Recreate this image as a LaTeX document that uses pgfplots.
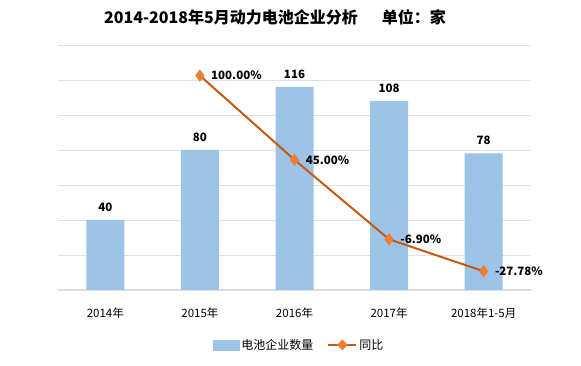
\documentclass[border=0pt]{standalone}
\usepackage{fontspec}
\setmainfont{Noto Sans CJK SC}
\usepackage{pgfplots}
\pgfplotsset{compat=1.18}
\definecolor{barblue}{HTML}{9DC3E6}
\definecolor{lineor}{HTML}{C55A11}
\definecolor{markor}{HTML}{ED7D31}
\definecolor{gridc}{HTML}{D9E1F2}
\definecolor{basec}{HTML}{D9D9D9}
\begin{document}
\begin{tikzpicture}
\path[use as bounding box] (0pt,0pt) rectangle (581pt,366pt);
\node[font=\fontsize{16}{18}\bfseries\selectfont] at (275pt,349pt) {2014-2018年5月动力电池企业分析\hspace{1.5em}单位：家};
\begin{axis}[
  at={(58pt,76pt)}, anchor=south west, scale only axis,
  width=473pt, height=245pt,
  xmin=-0.5, xmax=4.5, ymin=0, ymax=140,
  xtick={0,1,2,3,4},
  xticklabels={2014年,2015年,2016年,2017年,2018年1-5月},
  ytick={0,20,...,140}, yticklabels={},
  ymajorgrids, grid style={gridc, line width=0.8pt},
  major tick length=0pt,
  axis line style={draw=none},
  extra y ticks={0}, extra y tick labels={},
  extra y tick style={grid style={basec, line width=1pt}},
  xticklabel style={font=\fontsize{11.5}{13}\selectfont, yshift=-14pt},
  ybar, bar width=38pt,
  nodes near coords,
  every node near coord/.append style={font=\fontsize{11.5}{13}\bfseries\selectfont, yshift=5pt},
  /pgf/number format/assume math mode=true,
]
\addplot[fill=barblue, draw=none] coordinates {(0,40) (1,80) (2,116) (3,108) (4,78)};
\end{axis}
\begin{axis}[
  at={(58pt,76pt)}, anchor=south west, scale only axis,
  width=473pt, height=245pt,
  xmin=-0.5, xmax=4.5, ymin=-40, ymax=120,
  hide axis,
  clip=false,
  legend style={at={(0.51,-0.224)}, anchor=center, draw=none, fill=none,
    font=\fontsize{12}{14}\selectfont, legend columns=2,
    /tikz/every even column/.append style={column sep=12pt}},
]
\addlegendimage{area legend, legend image code/.code={\fill[barblue] (0pt,-5pt) rectangle (26pt,5pt);}}
\addlegendentry{电池企业数量}
\addplot[lineor, line width=2pt, mark=diamond*, mark size=4.5pt,
  mark options={draw=markor, fill=markor},
  point meta=explicit symbolic,
  nodes near coords,
  every node near coord/.append style={anchor=west, xshift=7pt, text=black,
    font=\fontsize{11.5}{13}\bfseries\selectfont},
  legend image code/.code={
    \draw[lineor, line width=2pt] (0pt,0pt) -- (28pt,0pt);
    \fill[markor] (14pt,4pt) -- (18pt,0pt) -- (14pt,-4pt) -- (10pt,0pt) -- cycle;
  }]
  coordinates {(1,100) [100.00\%] (2,45) [45.00\%] (3,-6.9) [-6.90\%] (4,-27.78) [-27.78\%]};
\addlegendentry{同比}
\end{axis}
\end{tikzpicture}
\end{document}
